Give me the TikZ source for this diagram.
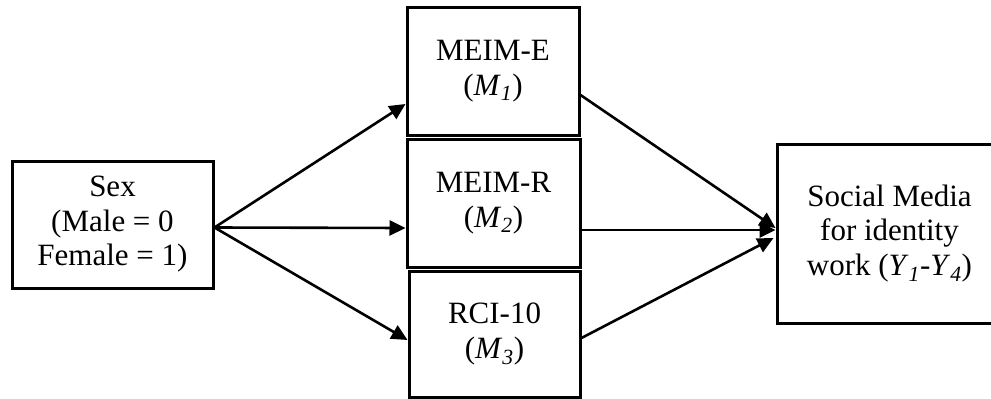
\documentclass[tikz,border=0pt]{standalone}
\usepackage{fontspec}
\setmainfont{Liberation Serif}
\usetikzlibrary{arrows.meta}
\newcommand{\var}[2]{\textit{#1}\textsubscript{\textit{#2}}}
\begin{document}
\begin{tikzpicture}[x=1pt,y=-1pt,
  box/.style={draw=black,line width=3pt,rectangle,align=center,inner sep=0pt,
    font=\fontsize{31}{34.5}\selectfont},
  path/.style={line width=2.6pt,-{Triangle[length=16pt,width=15pt]}}]
\useasboundingbox (0,0) rectangle (991,399);

\node[box,minimum width=201pt,minimum height=127pt] (sex) at (112.5,224.5)
  {Sex\\(Male = 0\\Female = 1)};
\node[box,minimum width=172pt,minimum height=128pt] (m1) at (493,71)
  {MEIM-E\\(\var{M}{1})};
\node[box,minimum width=173pt,minimum height=128pt] (m2) at (493.5,203)
  {MEIM-R\\(\var{M}{2})};
\node[box,minimum width=171pt,minimum height=126pt] (m3) at (494.5,334)
  {RCI-10\\(\var{M}{3})};
\node[box,minimum width=225pt,minimum height=179pt] (y) at (889.5,233.5)
  {Social Media\\for identity\\work (\var{Y}{1}-\var{Y}{4})};

% predictor to mediators
\draw[path] ([yshift=-3pt]sex.east) -- ([yshift=-33pt]m1.west);
\draw[path] ([yshift=-3pt]sex.east) -- ([yshift=-25pt]m2.west);
\draw[path] ([yshift=-3pt]sex.east) -- ([yshift=-6pt]m3.west);

% mediators to outcome
\draw[path] ([yshift=-24pt]m1.east) -- ([yshift=5.5pt]y.west);
\draw[path] ([yshift=-27pt]m2.east) -- ([yshift=3.5pt]y.west);
\draw[path] ([yshift=-4pt]m3.east) -- ([xshift=-2pt,yshift=-4.5pt]y.west);
\end{tikzpicture}
\end{document}
